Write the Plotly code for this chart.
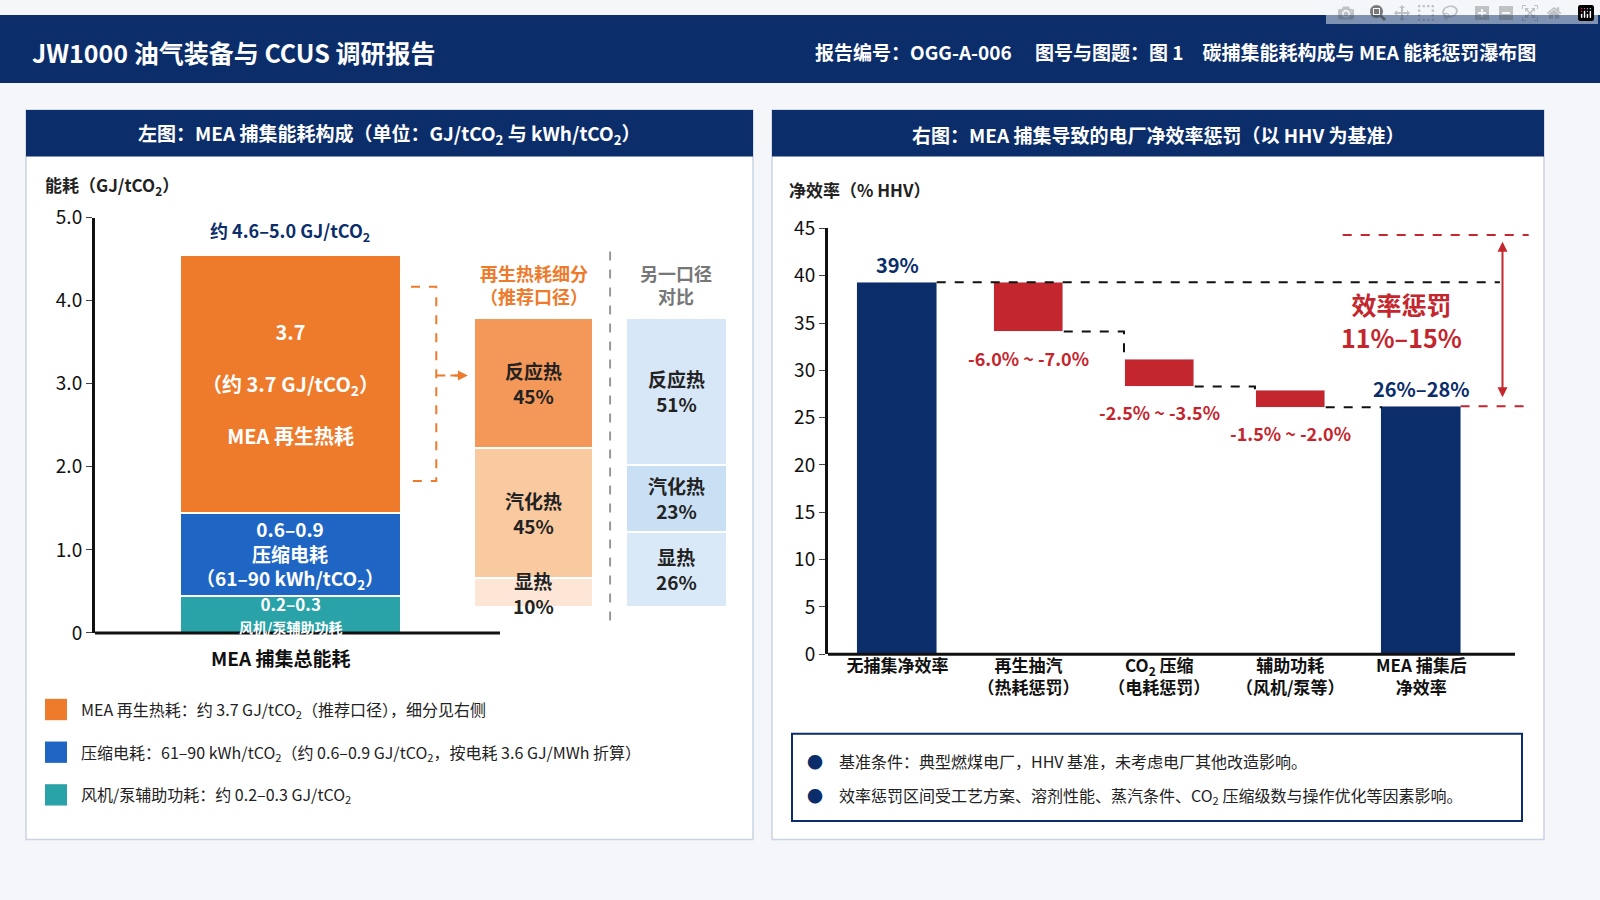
import plotly.graph_objects as go

# ---------------- data ----------------
stack_names = ["风机/泵辅助功耗", "压缩电耗", "MEA 再生热耗"]
stack_vals = [0.45, 1.0, 3.1]
stack_colors = ["#2aa3a8", "#1f66c4", "#ee7a2b"]

brk_labels = ["显热", "汽化热", "反应热"]
brk_rec = [10, 45, 45]
brk_alt = [26, 23, 51]
brk_base, brk_span = 0.31, 3.49

wf_cats = ["<b>无捕集净效率</b>", "<b>再生抽汽<br>（热耗惩罚）</b>", "<b>CO<sub>2</sub> 压缩<br>（电耗惩罚）</b>", "<b>辅助功耗<br>（风机/泵等）</b>", "<b>MEA 捕集后<br>净效率</b>"]
wf_start = 39.3
wf_tops = [39.3, 31.2, 27.9]
wf_bottoms = [34.1, 28.3, 26.1]
wf_end = 26.2
wf_labels = ["-6.0% ~ -7.0%", "-2.5% ~ -3.5%", "-1.5% ~ -2.0%"]

FONT = "Noto Sans CJK SC"
NAVY = "#0b2e6b"
RED = "#c4262e"

def px(x): return x / 1600
def py(y): return 1 - y / 900

fig = go.Figure()

for n, v, c in zip(stack_names, stack_vals, stack_colors):
    fig.add_trace(go.Bar(x=[3.09], y=[v], width=3.5, marker=dict(color=c, line=dict(color="white", width=2)),
                         xaxis="x", yaxis="y", showlegend=False, hoverinfo="skip"))
fig.update_layout(barmode="stack")

ann = []
rec_cols = ["#fde6d6", "#f9c9a0", "#f4985a"]
alt_cols = ["#d9e9f7", "#c9dff4", "#d7e7f7"]
for xc, w, pcts, cols in [(6.94, 1.88, brk_rec, rec_cols), (9.2, 1.6, brk_alt, alt_cols)]:
    b = brk_base
    for lab, p, c in zip(brk_labels, pcts, cols):
        h = p / 100 * brk_span
        fig.add_trace(go.Bar(x=[xc], y=[h], base=[b], width=w, marker=dict(color=c, line=dict(color="white", width=2)),
                             xaxis="x", yaxis="y", showlegend=False, hoverinfo="skip"))
        ann.append(dict(x=xc, y=b + h / 2, xref="x", yref="y", text=f"<b>{lab}<br>{p}%</b>", showarrow=False,
                        font=dict(size=19, color="#222", family=FONT)))
        b += h

fig.add_trace(go.Bar(x=[0, 4], y=[wf_start, wf_end], width=0.61, marker_color=NAVY,
                     xaxis="x2", yaxis="y2", showlegend=False, hoverinfo="skip"))
fig.add_trace(go.Bar(x=[1, 2, 3], y=[t - bo for t, bo in zip(wf_tops, wf_bottoms)], base=wf_bottoms,
                     width=0.53, marker_color=RED, xaxis="x2", yaxis="y2", showlegend=False, hoverinfo="skip"))

shapes = []
shapes.append(dict(type="rect", xref="paper", yref="paper", x0=0, x1=1, y0=py(70), y1=1, fillcolor=NAVY, line_width=0, layer="below"))
ann.append(dict(x=px(30), y=py(38), xref="paper", yref="paper", text="<b>JW1000 油气装备与 CCUS 调研报告</b>", showarrow=False,
                xanchor="left", font=dict(size=25, color="white", family=FONT)))
ann.append(dict(x=px(1538), y=py(38), xref="paper", yref="paper", text="<b>报告编号：OGG-A-006　 图号与图题：图 1　碳捕集能耗构成与 MEA 能耗惩罚瀑布图</b>",
                showarrow=False, xanchor="right", font=dict(size=19, color="white", family=FONT)))
for x0, x1, title in [(26, 753, "左图：MEA 捕集能耗构成（单位：GJ/tCO<sub>2</sub> 与 kWh/tCO<sub>2</sub>）"),
                      (772, 1544, "右图：MEA 捕集导致的电厂净效率惩罚（以 HHV 为基准）")]:
    shapes.append(dict(type="rect", xref="paper", yref="paper", x0=px(x0), x1=px(x1), y0=py(850), y1=py(98),
                       fillcolor="white", line=dict(color="#c9d3e3", width=1.5), layer="below"))
    shapes.append(dict(type="rect", xref="paper", yref="paper", x0=px(x0), x1=px(x1), y0=py(146), y1=py(98),
                       fillcolor=NAVY, line_width=0, layer="below"))
    ann.append(dict(x=px((x0 + x1) / 2), y=py(123), xref="paper", yref="paper", text=f"<b>{title}</b>", showarrow=False,
                    font=dict(size=19, color="white", family=FONT)))

ann.append(dict(x=px(43), y=py(176), xref="paper", yref="paper", text="<b>能耗（GJ/tCO<sub>2</sub>）</b>", showarrow=False,
                xanchor="left", font=dict(size=17, color="#222", family=FONT)))
shapes.append(dict(type="line", xref="paper", yref="paper", x0=px(95), x1=px(500), y0=py(637), y1=py(637), line=dict(color="#111", width=3)))
ann.append(dict(x=3.09, y=4.54, xref="x", yref="y", yshift=24, text="<b>约 4.6–5.0 GJ/tCO<sub>2</sub></b>", showarrow=False,
                font=dict(size=18, color=NAVY, family=FONT)))
ann.append(dict(x=3.09, y=3.0, xref="x", yref="y", text="<b>3.7<br><br>（约 3.7 GJ/tCO<sub>2</sub>）<br><br>MEA 再生热耗</b>", showarrow=False,
                font=dict(size=20, color="white", family=FONT), align="center"))
ann.append(dict(x=3.09, y=0.95, xref="x", yref="y", text="<b>0.6–0.9<br>压缩电耗<br>（61–90 kWh/tCO<sub>2</sub>）</b>", showarrow=False,
                font=dict(size=19, color="white", family=FONT)))
ann.append(dict(x=3.09, y=0.23, xref="x", yref="y", text="<b>0.2–0.3<br><span style='font-size:14px'>风机/泵辅助功耗</span></b>", showarrow=False,
                font=dict(size=17, color="white", family=FONT)))
ann.append(dict(x=px(280), y=py(662), xref="paper", yref="paper", text="<b>MEA 捕集总能耗</b>", showarrow=False,
                font=dict(size=19, color="#111", family=FONT)))
ann.append(dict(x=6.94, y=4.2, xref="x", yref="y", text="<b>再生热耗细分<br>（推荐口径）</b>", showarrow=False,
                font=dict(size=18, color="#ee7a2b", family=FONT)))
ann.append(dict(x=9.2, y=4.2, xref="x", yref="y", text="<b>另一口径<br>对比</b>", showarrow=False,
                font=dict(size=18, color="#777", family=FONT)))
shapes.append(dict(type="line", xref="x", yref="y", x0=8.15, x1=8.15, y0=0.15, y1=4.6, line=dict(color="#999", width=2, dash="dash")))
shapes.append(dict(type="path", xref="x", yref="y", path="M 5.0 4.17 L 5.4 4.17 L 5.4 1.83 L 5.0 1.83",
                   line=dict(color="#ee7a2b", width=2, dash="dash")))
shapes.append(dict(type="line", xref="x", yref="y", x0=5.4, x1=5.75, y0=3.1, y1=3.1, line=dict(color="#ee7a2b", width=2, dash="dash")))
ann.append(dict(x=5.9, y=3.1, ax=5.6, ay=3.1, xref="x", yref="y", axref="x", ayref="y", text="", showarrow=True,
                arrowhead=2, arrowcolor="#ee7a2b", arrowwidth=2))

leg = ["MEA 再生热耗：约 3.7 GJ/tCO<sub>2</sub>（推荐口径），细分见右侧",
       "压缩电耗：61–90 kWh/tCO<sub>2</sub>（约 0.6–0.9 GJ/tCO<sub>2</sub>，按电耗 3.6 GJ/MWh 折算）",
       "风机/泵辅助功耗：约 0.2–0.3 GJ/tCO<sub>2</sub>"]
for i, (t, c) in enumerate(zip(leg, ["#ee7a2b", "#1f66c4", "#2aa3a8"])):
    yy = 716 + 44 * i
    shapes.append(dict(type="rect", xref="paper", yref="paper", x0=px(45), x1=px(67), y0=py(yy + 11), y1=py(yy - 11), fillcolor=c, line_width=0))
    ann.append(dict(x=px(79), y=py(yy), xref="paper", yref="paper", text=t, showarrow=False, xanchor="left",
                    font=dict(size=16, color="#222", family=FONT)))

ann.append(dict(x=px(787), y=py(180), xref="paper", yref="paper", text="<b>净效率（% HHV）</b>", showarrow=False,
                xanchor="left", font=dict(size=17, color="#222", family=FONT)))
shapes.append(dict(type="line", xref="paper", yref="paper", x0=px(828), x1=px(1515), y0=py(659), y1=py(659), line=dict(color="#111", width=3)))
ann.append(dict(x=0, y=wf_start, xref="x2", yref="y2", yshift=18, text="<b>39%</b>", showarrow=False, font=dict(size=20, color=NAVY, family=FONT)))
ann.append(dict(x=4, y=wf_end, xref="x2", yref="y2", yshift=18, text="<b>26%–28%</b>", showarrow=False, font=dict(size=20, color=NAVY, family=FONT)))
for i, (lab, bo) in enumerate(zip(wf_labels, wf_bottoms)):
    ann.append(dict(x=i + 1, y=bo, xref="x2", yref="y2", yshift=-26, text=f"<b>{lab}</b>", showarrow=False,
                    font=dict(size=18, color=RED, family=FONT)))
dash = dict(color="#111", width=2, dash="dash")
shapes.append(dict(type="line", xref="x2", yref="y2", x0=0.3, x1=4.6, y0=wf_start, y1=wf_start, line=dash))
shapes.append(dict(type="path", xref="x2", yref="y2", path=f"M 1.27 {wf_bottoms[0]} L 1.73 {wf_bottoms[0]} L 1.73 {wf_tops[1]}", line=dash))
shapes.append(dict(type="path", xref="x2", yref="y2", path=f"M 2.27 {wf_bottoms[1]} L 2.73 {wf_bottoms[1]} L 2.73 {wf_tops[2]}", line=dash))
shapes.append(dict(type="line", xref="x2", yref="y2", x0=3.27, x1=3.7, y0=wf_bottoms[2], y1=wf_bottoms[2], line=dash))
rdash = dict(color=RED, width=2, dash="dash")
shapes.append(dict(type="line", xref="x2", yref="y2", x0=3.4, x1=4.82, y0=44.3, y1=44.3, line=rdash))
shapes.append(dict(type="line", xref="x2", yref="y2", x0=4.3, x1=4.82, y0=wf_end, y1=wf_end, line=rdash))
ann.append(dict(x=4.62, y=43.6, ax=4.62, ay=27.0, xref="x2", yref="y2", axref="x2", ayref="y2", text="", showarrow=True,
                arrowhead=2, arrowside="end+start", arrowcolor=RED, arrowwidth=2))
ann.append(dict(x=3.85, y=35.3, xref="x2", yref="y2", text="<b>效率惩罚<br>11%–15%</b>", showarrow=False,
                font=dict(size=25, color=RED, family=FONT)))
shapes.append(dict(type="rect", xref="paper", yref="paper", x0=px(792), x1=px(1522), y0=py(831), y1=py(741),
                   line=dict(color=NAVY, width=2), fillcolor="white"))
for i, t in enumerate(["基准条件：典型燃煤电厂，HHV 基准，未考虑电厂其他改造影响。",
                       "效率惩罚区间受工艺方案、溶剂性能、蒸汽条件、CO<sub>2</sub> 压缩级数与操作优化等因素影响。"]):
    yy = 769 + 36 * i
    ann.append(dict(x=px(805), y=py(yy), xref="paper", yref="paper", text=f"<span style='color:{NAVY}'>●</span>　{t}", showarrow=False,
                    xanchor="left", font=dict(size=16, color="#222", family=FONT)))

for a in ann:
    a.setdefault("yanchor", "middle")
    a.setdefault("xanchor", "center")

tickf = dict(size=19, color="#111", family=FONT)
fig.update_layout(
    width=1600, height=900, autosize=False, margin=dict(l=0, r=0, t=0, b=0), paper_bgcolor="#f4f6fa", plot_bgcolor="rgba(0,0,0,0)",
    bargap=0, shapes=shapes, annotations=ann, font=dict(family=FONT),
    xaxis=dict(domain=[px(95), px(727)], range=[0, 10], visible=False),
    yaxis=dict(domain=[py(637), py(209)], range=[0, 5.0], tickvals=[0, 1, 2, 3, 4, 5],
               ticktext=["0", "1.0", "2.0", "3.0", "4.0", "5.0"], showgrid=False, zeroline=False,
               showline=True, linecolor="#111", linewidth=3, ticks="outside", ticklen=6, tickfont=tickf),
    xaxis2=dict(domain=[px(828), px(1530)], range=[-0.53, 4.83], tickvals=[0, 1, 2, 3, 4], ticktext=wf_cats,
                showgrid=False, zeroline=False, showline=False, tickfont=dict(size=17, color="#111", family=FONT), anchor="y2"),
    yaxis2=dict(domain=[py(659), py(220)], range=[0, 45], dtick=5, showgrid=False, zeroline=False, anchor="x2",
                showline=True, linecolor="#111", linewidth=3, ticks="outside", ticklen=6, tickfont=tickf),
)
fig.write_html("out.html", post_script="document.body.style.margin='0';document.body.style.overflow='hidden';")
